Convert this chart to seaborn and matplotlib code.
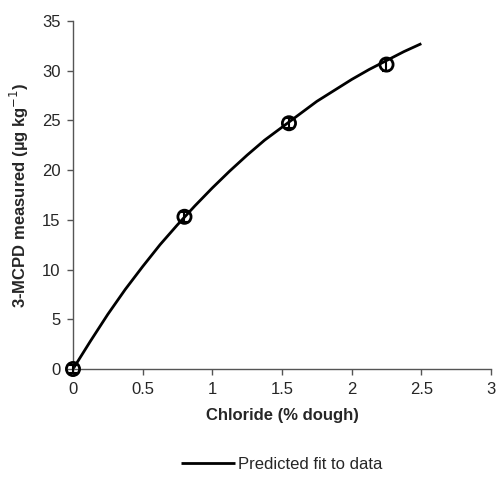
import matplotlib
matplotlib.use("Agg")
import matplotlib.pyplot as plt
import seaborn as sns
import pandas as pd

# measured points
chloride = [0.0, 0.8, 1.55, 2.25]
mcpd = [0.0, 15.3, 24.7, 30.6]
mcpd_err = [0.4, 0.5, 0.5, 0.6]

# predicted fit curve
fit_x = [0.0, 0.125, 0.25, 0.375, 0.5, 0.625, 0.75, 0.875, 1.0, 1.125, 1.25,
         1.375, 1.5, 1.625, 1.75, 1.875, 2.0, 2.125, 2.25, 2.375, 2.5]
fit_y = [0.0, 2.8, 5.5, 8.0, 10.3, 12.5, 14.5, 16.4, 18.2, 19.9, 21.5,
         23.0, 24.3, 25.6, 26.9, 28.0, 29.1, 30.1, 31.0, 31.9, 32.7]

x_ticks = [0, 0.5, 1, 1.5, 2, 2.5, 3]
x_labels = ["0", "0.5", "1", "1.5", "2", "2.5", "3"]
y_ticks = [0, 5, 10, 15, 20, 25, 30, 35]

sns.set_style("ticks")
plt.rcParams['font.family'] = ['Liberation Sans', 'DejaVu Sans']

fig = plt.figure(figsize=(5.0, 4.83), dpi=100)
ax = fig.add_axes([0.146, 0.236, 0.836, 0.721])

fit_df = pd.DataFrame({"x": fit_x, "y": fit_y})
sns.lineplot(data=fit_df, x="x", y="y", ax=ax, color="black", linewidth=2,
             label="Predicted fit to data", sort=True,
             solid_joinstyle="round", solid_capstyle="butt")

eb = ax.errorbar(chloride, mcpd, yerr=mcpd_err, fmt="none", ecolor="black",
                 elinewidth=1.5, capsize=3, capthick=1.5, zorder=4)
for artist in eb.get_children():
    artist.set_clip_on(False)
pts = pd.DataFrame({"x": chloride, "y": mcpd})
sns.scatterplot(data=pts, x="x", y="y", ax=ax, s=90, facecolor="none",
                edgecolor="black", linewidth=2, zorder=5, legend=False,
                clip_on=False)

ax.set_xlim(0, 3)
ax.set_ylim(0, 35)
ax.set_xticks(x_ticks)
ax.set_xticklabels(x_labels)
ax.set_yticks(y_ticks)
ax.tick_params(axis="both", labelsize=12, length=4, width=1, color="#555555", pad=5)
for s in ["top", "right"]:
    ax.spines[s].set_visible(False)
for s in ["left", "bottom"]:
    ax.spines[s].set_color("#555555")
    ax.spines[s].set_linewidth(1)

ax.set_xlabel("Chloride (% dough)", fontsize=12, fontweight="bold", labelpad=8)
ax.set_ylabel("3-MCPD measured (µg kg$^{-1}$)", fontsize=12, fontweight="bold", labelpad=8)

leg = ax.legend(loc="center", bbox_to_anchor=(0.5, -0.275), frameon=False,
                fontsize=12, handlelength=3.2, handletextpad=0.2)

fig.savefig("out.png", dpi=100)
